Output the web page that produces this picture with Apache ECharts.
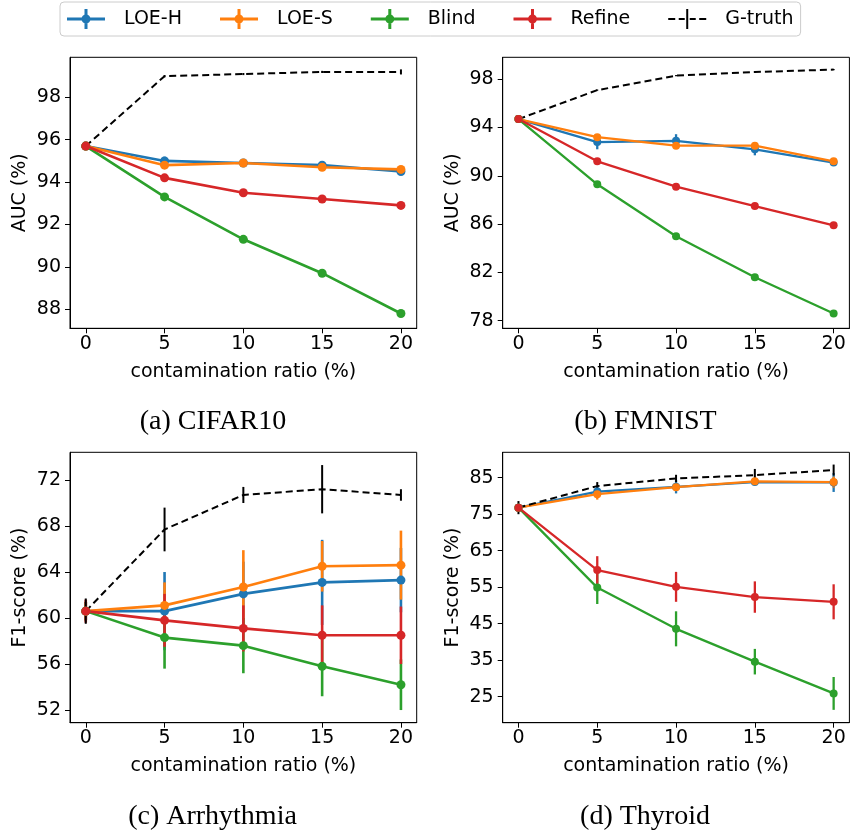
<!DOCTYPE html>
<html><head><meta charset="utf-8">
<script src="https://cdn.jsdelivr.net/npm/echarts@6/dist/echarts.min.js"></script>
<style>html,body{margin:0;padding:0;background:#fff}#c{width:850px;height:834px}</style>
</head><body><div id="c"></div>
<script>
// ---------- data ----------
const ratios = [0, 5, 10, 15, 20];
const methods = ['LOE-H', 'LOE-S', 'Blind', 'Refine', 'G-truth'];
const xTicks = [0, 5, 10, 15, 20];

// (a) CIFAR10 - AUC
const cifarLOEH = [95.7, 95.0, 94.9, 94.8, 94.5];
const cifarLOEHErr = [0.05, 0.2, 0.08, 0.1, 0.1];
const cifarLOES = [95.7, 94.8, 94.9, 94.7, 94.6];
const cifarLOESErr = [0.05, 0.08, 0.06, 0.08, 0.08];
const cifarBlind = [95.7, 93.3, 91.3, 89.7, 87.8];
const cifarBlindErr = [0.05, 0.08, 0.08, 0.08, 0.1];
const cifarRefine = [95.7, 94.2, 93.5, 93.2, 92.9];
const cifarRefineErr = [0.05, 0.08, 0.08, 0.08, 0.08];
const cifarTruth = [95.7, 99.0, 99.1, 99.2, 99.2];
const cifarTruthErr = [0.05, 0.05, 0.05, 0.05, 0.12];
const cifarTicks = [88, 90, 92, 94, 96, 98];

// (b) FMNIST - AUC
const fmnistLOEH = [94.7, 92.8, 92.9, 92.2, 91.1];
const fmnistLOEHErr = [0.1, 0.6, 0.55, 0.5, 0.2];
const fmnistLOES = [94.7, 93.2, 92.5, 92.5, 91.2];
const fmnistLOESErr = [0.1, 0.2, 0.15, 0.2, 0.15];
const fmnistBlind = [94.7, 89.3, 85.0, 81.6, 78.6];
const fmnistBlindErr = [0.1, 0.15, 0.15, 0.15, 0.15];
const fmnistRefine = [94.7, 91.2, 89.1, 87.5, 85.9];
const fmnistRefineErr = [0.1, 0.15, 0.15, 0.15, 0.15];
const fmnistTruth = [94.7, 97.1, 98.3, 98.6, 98.8];
const fmnistTruthErr = [0.05, 0.05, 0.05, 0.05, 0.05];
const fmnistTicks = [78, 82, 86, 90, 94, 98];

// (c) Arrhythmia - F1
const arrhLOEH = [60.6, 60.6, 62.1, 63.1, 63.3];
const arrhLOEHErr = [0.8, 3.4, 2.8, 3.7, 2.8];
const arrhLOES = [60.6, 61.1, 62.7, 64.5, 64.6];
const arrhLOESErr = [0.8, 2.0, 3.2, 2.2, 3.0];
const arrhBlind = [60.6, 58.3, 57.6, 55.8, 54.2];
const arrhBlindErr = [0.8, 2.7, 2.4, 2.6, 2.2];
const arrhRefine = [60.6, 59.8, 59.1, 58.5, 58.5];
const arrhRefineErr = [1.0, 2.3, 2.0, 2.6, 2.5];
const arrhTruth = [60.6, 67.7, 70.7, 71.2, 70.7];
const arrhTruthErr = [1.1, 1.9, 0.7, 2.1, 0.5];
const arrhTicks = [52, 56, 60, 64, 68, 72];

// (d) Thyroid - F1
const thyLOEH = [76.8, 81.2, 82.5, 83.8, 83.7];
const thyLOEHErr = [1.0, 1.5, 1.8, 0.8, 2.6];
const thyLOES = [76.8, 80.5, 82.4, 84.0, 83.8];
const thyLOESErr = [1.0, 1.5, 1.0, 0.8, 1.5];
const thyBlind = [76.8, 54.9, 43.6, 34.6, 25.9];
const thyBlindErr = [1.0, 4.5, 4.8, 3.5, 4.5];
const thyRefine = [76.8, 59.7, 55.1, 52.3, 51.0];
const thyRefineErr = [1.0, 3.8, 4.1, 4.3, 4.8];
const thyTruth = [76.8, 82.7, 84.8, 85.7, 87.1];
const thyTruthErr = [1.8, 1.1, 1.0, 1.7, 1.5];
const thyTicks = [25, 35, 45, 55, 65, 75, 85];

// ---------- layout / style ----------
const colors = {'LOE-H': '#1f77b4', 'LOE-S': '#ff7f0e', 'Blind': '#2ca02c', 'Refine': '#d62728', 'G-truth': '#000000'};
const FONT = 'DejaVu Sans';
const panels = [
  {title: '(a) CIFAR10', yName: 'AUC (%)', ticks: cifarTicks, yMin: 87.10, yMax: 99.89,
   grid: {left: 70, top: 57.3, width: 346.7, height: 271}, sub: [213, 422], sym: 9, lw: 2.6,
   vals: [cifarLOEH, cifarLOES, cifarBlind, cifarRefine, cifarTruth],
   errs: [cifarLOEHErr, cifarLOESErr, cifarBlindErr, cifarRefineErr, cifarTruthErr]},
  {title: '(b) FMNIST', yName: 'AUC (%)', ticks: fmnistTicks, yMin: 77.37, yMax: 99.82,
   grid: {left: 502.7, top: 57.3, width: 346.7, height: 271}, sub: [645.5, 422], sym: 8, lw: 2.3,
   vals: [fmnistLOEH, fmnistLOES, fmnistBlind, fmnistRefine, fmnistTruth],
   errs: [fmnistLOEHErr, fmnistLOESErr, fmnistBlindErr, fmnistRefineErr, fmnistTruthErr]},
  {title: '(c) Arrhythmia', yName: 'F1-score (%)', ticks: arrhTicks, yMin: 50.90, yMax: 74.41,
   grid: {left: 70, top: 452.3, width: 346.7, height: 270.4}, sub: [212.5, 817], sym: 9, lw: 2.6,
   vals: [arrhLOEH, arrhLOES, arrhBlind, arrhRefine, arrhTruth],
   errs: [arrhLOEHErr, arrhLOESErr, arrhBlindErr, arrhRefineErr, arrhTruthErr]},
  {title: '(d) Thyroid', yName: 'F1-score (%)', ticks: thyTicks, yMin: 17.88, yMax: 91.96,
   grid: {left: 502.7, top: 452.3, width: 346.7, height: 270.4}, sub: [645, 817], sym: 8, lw: 2.3,
   vals: [thyLOEH, thyLOES, thyBlind, thyRefine, thyTruth],
   errs: [thyLOEHErr, thyLOESErr, thyBlindErr, thyRefineErr, thyTruthErr]}
];

const ebIcon = 'path://M0 8.5H38V11.5H0Z M17.5 0H20.5V20H17.5Z M23.5 10A4.5 4.5 0 1 1 14.5 10A4.5 4.5 0 1 1 23.5 10Z';
const gtIcon = 'path://M0 9H7V11H0Z M10.5 9H16.5V11H10.5Z M21.5 9H27.5V11H21.5Z M31 9H38V11H31Z M18 0H20V20H18Z';

const grids = [], xAxes = [], yAxes = [], series = [], graphics = [];
panels.forEach((p, k) => {
  grids.push(Object.assign({show: true, borderColor: '#000', borderWidth: 1, backgroundColor: 'transparent'}, p.grid));
  xAxes.push({
    type: 'value', gridIndex: k, min: -1, max: 21,
    axisLine: {show: true, onZero: false, lineStyle: {color: '#000', width: 1}},
    axisTick: {show: true, customValues: xTicks, length: 5, lineStyle: {color: '#000', width: 1}},
    axisLabel: {customValues: xTicks, fontSize: 19, fontFamily: FONT, color: '#000', margin: 6},
    splitLine: {show: false},
    name: 'contamination ratio (%)', nameLocation: 'middle', nameGap: 34,
    nameTextStyle: {fontSize: 19, fontFamily: FONT, color: '#000'}
  });
  yAxes.push({
    type: 'value', gridIndex: k, min: p.yMin, max: p.yMax,
    axisLine: {show: true, onZero: false, lineStyle: {color: '#000', width: 1}},
    axisTick: {show: true, customValues: p.ticks, length: 5, lineStyle: {color: '#000', width: 1}},
    axisLabel: {customValues: p.ticks, fontSize: 19, fontFamily: FONT, color: '#000', margin: 9},
    splitLine: {show: false},
    name: p.yName, nameLocation: 'middle', nameGap: 40, nameRotate: 90,
    nameTextStyle: {fontSize: 19, fontFamily: FONT, color: '#000'}
  });
  methods.forEach((m, j) => {
    const isTruth = m === 'G-truth';
    const col = colors[m];
    const ebW = isTruth ? 2 : p.lw;
    series.push({
      type: 'custom', xAxisIndex: k, yAxisIndex: k, silent: true,
      data: ratios.map((x, i) => [x, p.vals[j][i], p.errs[j][i]]),
      encode: {x: 0, y: 1},
      renderItem: (params, api) => {
        const x = api.value(0), y = api.value(1), e = api.value(2);
        const a = api.coord([x, y - e]), b = api.coord([x, y + e]);
        return {type: 'line', shape: {x1: a[0], y1: a[1], x2: b[0], y2: b[1]},
                style: {stroke: col, lineWidth: ebW}};
      }
    });
    series.push({
      type: 'line', name: m, xAxisIndex: k, yAxisIndex: k,
      data: ratios.map((x, i) => [x, p.vals[j][i]]),
      symbol: isTruth ? 'none' : 'circle', symbolSize: p.sym, showSymbol: !isTruth,
      itemStyle: {color: col, borderWidth: 0},
      lineStyle: isTruth ? {color: col, width: 2, type: [7, 4]} : {color: col, width: p.lw},
      silent: true
    });
  });
  graphics.push({
    type: 'text', x: p.sub[0], y: p.sub[1],
    style: {text: p.title, align: 'center', verticalAlign: 'middle', fill: '#000',
            font: '28px "Liberation Serif", serif'}
  });
});

const chart = echarts.init(document.getElementById('c'), null, {renderer: 'canvas'});
chart.setOption({
  animation: false,
  backgroundColor: '#fff',
  legend: {
    left: 60, top: 2, padding: 7, itemWidth: 38, itemHeight: 20, itemGap: 38,
    selectedMode: false,
    borderColor: '#cccccc', borderWidth: 1, borderRadius: 4,
    itemStyle: {borderWidth: 0},
    textStyle: {fontSize: 19, fontFamily: FONT, color: '#000', padding: [0, 0, 0, 14]},
    data: methods.map(m => ({name: m, icon: m === 'G-truth' ? gtIcon : ebIcon}))
  },
  grid: grids, xAxis: xAxes, yAxis: yAxes, series: series, graphic: graphics
});
</script></body></html>
